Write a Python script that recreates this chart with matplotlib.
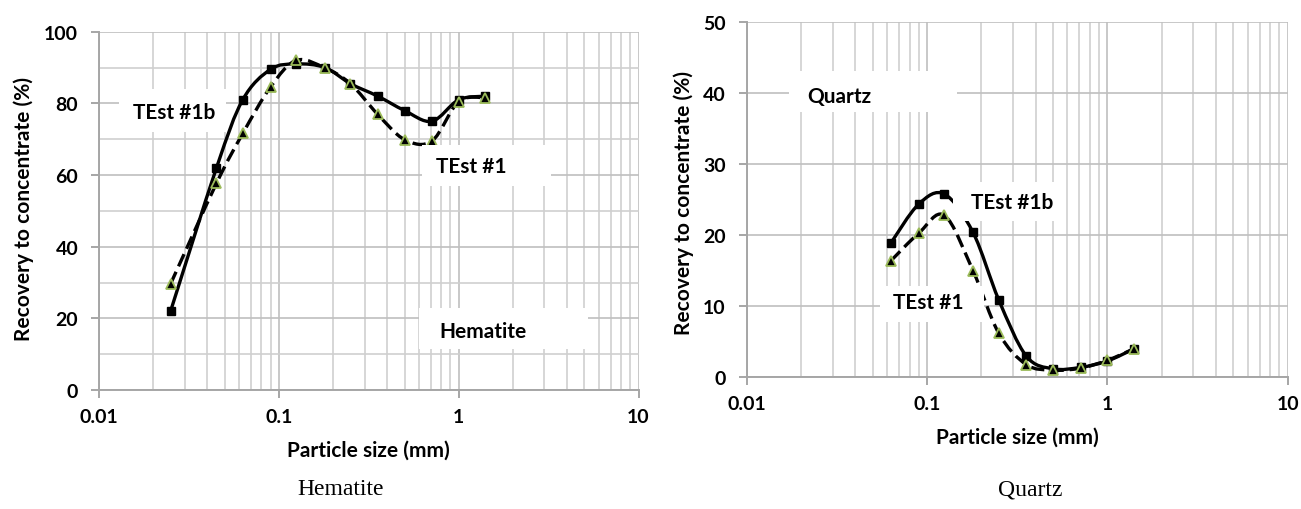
import numpy as np
import matplotlib.pyplot as plt
from matplotlib.path import Path
from matplotlib.patches import PathPatch, Rectangle
from matplotlib.ticker import FixedLocator, MultipleLocator, NullFormatter

plt.rcParams['font.family'] = ['Lato', 'DejaVu Sans']

# particle sizes (mm)
sizes_hem = [0.025, 0.045, 0.063, 0.09, 0.125, 0.18, 0.25, 0.355, 0.5, 0.71, 1.0, 1.4]
sizes_qtz = [0.063, 0.09, 0.125, 0.18, 0.25, 0.355, 0.5, 0.71, 1.0, 1.4]

# recovery to concentrate (%)
hem_test1b = [22, 62, 81, 89.5, 91, 90, 85.5, 82, 78, 75, 81, 82]
hem_test1 = [29.6, 57.7, 71.6, 84.6, 92, 89.9, 85.5, 76.9, 69.9, 69.5, 80.5, 81.6]
qtz_test1b = [18.9, 24.4, 25.8, 20.4, 10.9, 3.0, 1.2, 1.4, 2.3, 4.0]
qtz_test1 = [16.4, 20.3, 22.8, 15.0, 6.2, 1.8, 1.0, 1.3, 2.4, 4.0]

x_ticks = [0.01, 0.1, 1, 10]
x_ticklabels = ['0.01', '0.1', '1', '10']

GREEN = '#9BBB59'


def smooth_path(x, y):
    # excel style smoothed line: catmull-rom -> bezier, done in log10(x) space
    pts = np.column_stack([np.log10(x), y])
    n = len(pts)
    verts = [pts[0]]
    codes = [Path.MOVETO]
    for i in range(n - 1):
        p0 = pts[max(i - 1, 0)]
        p1 = pts[i]
        p2 = pts[i + 1]
        p3 = pts[min(i + 2, n - 1)]
        verts += [p1 + (p2 - p0) / 6, p2 - (p3 - p1) / 6, p2]
        codes += [Path.CURVE4] * 3
    verts = np.array(verts)
    verts[:, 0] = 10 ** verts[:, 0]
    return Path(verts, codes)


def panel(ax, sizes, s1b, s1, ymax, ystep, yminor, labels):
    ax.set_xscale('log')
    ax.set_xlim(0.01, 10)
    ax.set_ylim(0, ymax)

    ax.add_patch(PathPatch(smooth_path(sizes, s1b), fill=False, color='black', lw=2.4, zorder=3))
    ax.plot(sizes, s1b, ls='none', marker='s', ms=6, color='black', zorder=3)
    ax.add_patch(PathPatch(smooth_path(sizes, s1), fill=False, color='black', lw=2.4,
                           linestyle=(0, (4, 1.8)), zorder=3))
    ax.plot(sizes, s1, ls='none', marker='^', ms=7.5, mfc='black', mec=GREEN, mew=1.3, zorder=3)

    ax.xaxis.set_major_locator(FixedLocator(x_ticks))
    ax.set_xticklabels(x_ticklabels)
    ax.xaxis.set_minor_locator(FixedLocator([m * 10.0 ** e for e in (-2, -1, 0) for m in range(2, 10)]))
    ax.xaxis.set_minor_formatter(NullFormatter())
    ax.yaxis.set_major_locator(MultipleLocator(ystep))
    if yminor:
        ax.yaxis.set_minor_locator(MultipleLocator(yminor))
    else:
        ax.yaxis.set_minor_locator(FixedLocator([]))

    ax.grid(which='major', color='#BFBFBF', lw=1.2)
    ax.grid(which='minor', color='#CFCFCF', lw=1.2)
    ax.set_axisbelow(True)

    for s in ('top', 'right'):
        ax.spines[s].set_visible(False)
    for s in ('left', 'bottom'):
        ax.spines[s].set_color('#A6A6A6')
        ax.spines[s].set_linewidth(1.4)
    ax.tick_params(which='major', length=6, width=1.4, color='#A6A6A6', labelsize=14)
    ax.tick_params(axis='x', which='major', pad=7)
    ax.tick_params(axis='y', which='major', pad=9)
    ax.tick_params(which='minor', length=0)
    for t in ax.get_xticklabels() + ax.get_yticklabels():
        t.set_fontweight('bold')

    for txt, tx, ty, (x0, y0, x1, y1) in labels:
        ax.add_patch(Rectangle((x0, y0), x1 - x0, y1 - y0, transform=ax.transAxes,
                               facecolor='white', edgecolor='none', zorder=4))
        ax.text(tx, ty, txt, transform=ax.transAxes, ha='center', va='center',
                fontsize=15, fontweight='bold', zorder=5)


fig = plt.figure(figsize=(13.01, 5.10), dpi=100)
ax1 = fig.add_axes([0.0761, 0.2333, 0.4147, 0.7026])
ax2 = fig.add_axes([0.5739, 0.2582, 0.4159, 0.6961])

panel(ax1, sizes_hem, hem_test1b, hem_test1, 100, 20, 10, [
    ('TEst #1b', 0.14, 0.775, (0.037, 0.72, 0.235, 0.84)),
    ('TEst #1', 0.69, 0.624, (0.599, 0.569, 0.838, 0.685)),
    ('Hematite', 0.711, 0.166, (0.593, 0.114, 0.906, 0.228)),
])
panel(ax2, sizes_qtz, qtz_test1b, qtz_test1, 50, 10, None, [
    ('Quartz', 0.172, 0.793, (0.079, 0.746, 0.388, 0.864)),
    ('TEst #1b', 0.49, 0.493, (0.382, 0.441, 0.573, 0.549)),
    ('TEst #1', 0.335, 0.211, (0.247, 0.157, 0.439, 0.258)),
])

for ax, lx, ly, yx in ((ax1, -0.166, -0.139, 0.509), (ax2, -0.168, -0.116, 0.495)):
    ax.set_xlabel('Particle size (mm)', fontsize=15, fontweight='bold', va='center')
    ax.xaxis.set_label_coords(0.5, lx)
    ax.set_ylabel('Recovery to concentrate (%)', fontsize=15, fontweight='bold', va='center')
    ax.yaxis.set_label_coords(ly, yx)

fig.text(341 / 1301, 1 - 490 / 510, 'Hematite', family='Liberation Serif', fontsize=17,
         ha='center', va='center')
fig.text(1030 / 1301, 1 - 490 / 510, 'Quartz', family='Liberation Serif', fontsize=17,
         ha='center', va='center')

fig.savefig('out.png', dpi=100)
